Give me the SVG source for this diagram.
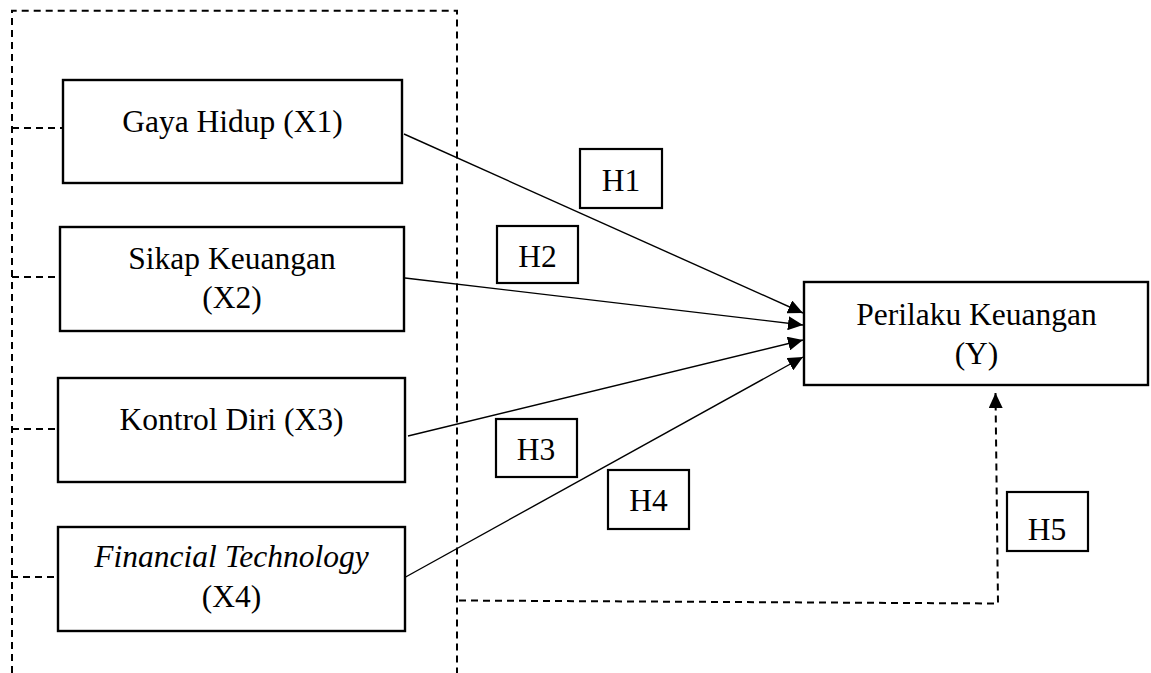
<svg xmlns="http://www.w3.org/2000/svg" width="1151" height="673" viewBox="0 0 1151 673">
<style>
.bg{fill:#fff}
.box{fill:#fff;stroke:#000;stroke-width:2.4}
.hbox{fill:#fff;stroke:#000;stroke-width:2.2}
.t{font-family:"Liberation Serif","Times New Roman",serif;font-size:31.5px;fill:#000;text-anchor:middle}
.h{font-family:"Liberation Serif","Times New Roman",serif;font-size:31.5px;fill:#000;text-anchor:middle}
.it{font-style:italic}
.dash{fill:none;stroke:#000;stroke-width:2;stroke-dasharray:7 5}
.arrow{fill:none;stroke:#000;stroke-width:1.4}
</style>
<defs>
<marker id="ah" markerUnits="userSpaceOnUse" markerWidth="16" markerHeight="14" refX="15" refY="7" orient="auto">
<path d="M0,0 L15,7 L0,14 z" fill="#000"/>
</marker>
</defs>
<rect class="bg" x="0" y="0" width="1151" height="673"/>
<g id="connectors">
<path id="frame" class="dash" d="M12,673 L12,10.7 L457,10.7 L457,673"/>
<line class="dash" x1="12" y1="128" x2="63" y2="128"/>
<line class="dash" x1="12" y1="277" x2="60" y2="277"/>
<line class="dash" x1="12" y1="429" x2="58" y2="429"/>
<line class="dash" x1="11" y1="577" x2="58" y2="577"/>
<line class="arrow" x1="404" y1="134" x2="803" y2="313" marker-end="url(#ah)"/>
<line class="arrow" x1="405" y1="278" x2="803" y2="325" marker-end="url(#ah)"/>
<line class="arrow" x1="408" y1="436" x2="803" y2="340" marker-end="url(#ah)"/>
<line class="arrow" x1="402" y1="579" x2="803" y2="357" marker-end="url(#ah)"/>
<path class="dash" d="M459,600.5 L998,603.5 L995.5,393" marker-end="url(#ah)"/>
</g>
<g id="x1">
<rect class="box" x="63" y="80" width="339" height="103"/>
<text class="t" x="232.5" y="132">Gaya Hidup (X1)</text>
</g>
<g id="x2">
<rect class="box" x="60" y="227" width="344" height="104"/>
<text class="t" x="232" y="269">Sikap Keuangan</text>
<text class="t" x="232" y="308">(X2)</text>
</g>
<g id="x3">
<rect class="box" x="58" y="378" width="347" height="104"/>
<text class="t" x="231.5" y="430">Kontrol Diri (X3)</text>
</g>
<g id="x4">
<rect class="box" x="58" y="527" width="347" height="104"/>
<text class="t it" x="231.5" y="567">Financial Technology</text>
<text class="t" x="231.5" y="607">(X4)</text>
</g>
<g id="y">
<rect class="box" x="804" y="282" width="344" height="103"/>
<text class="t" x="976.5" y="325">Perilaku Keuangan</text>
<text class="t" x="976.5" y="364">(Y)</text>
</g>
<g id="h1">
<rect class="hbox" x="580" y="149" width="82" height="59"/>
<text class="h" x="621" y="191">H1</text>
</g>
<g id="h2">
<rect class="hbox" x="497" y="226" width="81" height="57"/>
<text class="h" x="537.5" y="267">H2</text>
</g>
<g id="h3">
<rect class="hbox" x="496" y="419" width="81" height="58"/>
<text class="h" x="536" y="460">H3</text>
</g>
<g id="h4">
<rect class="hbox" x="608" y="470" width="81" height="59"/>
<text class="h" x="648.5" y="511">H4</text>
</g>
<g id="h5">
<rect class="hbox" x="1007" y="492" width="81" height="59"/>
<text class="h" x="1047" y="540">H5</text>
</g>
</svg>
